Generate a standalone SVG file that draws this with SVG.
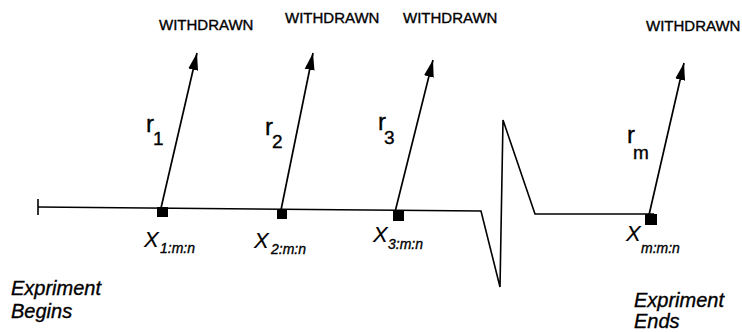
<svg xmlns="http://www.w3.org/2000/svg" width="742" height="332" viewBox="0 0 742 332">
<style>
.ln{fill:none;stroke:#000;stroke-width:1.6;stroke-linejoin:miter}
.ar{fill:none;stroke:#000;stroke-width:1.7}
.t{font-family:"Liberation Sans",Arial,sans-serif;fill:#000;stroke:#000;stroke-width:0.35}
.w{font-size:15px}
.r{font-size:24px}
.rs{font-size:19px}
.x{font-size:22px;font-style:italic;stroke-width:0.15}
.xs{font-size:14px;font-style:italic}
.e{font-size:20px;font-style:italic}
.sq{fill:#000}
</style>
<defs>
<marker id="ah" markerUnits="userSpaceOnUse" markerWidth="19" markerHeight="11" refX="17" refY="5.5" orient="auto">
<path d="M0,0.5 L17,5.5 L0,10.5 z" fill="#000"/>
</marker>
</defs>
<g id="timeline">
<line class="ln" x1="38" y1="199" x2="38" y2="215"/>
<polyline class="ln" points="38,207 481,211 500,287 503,120 535,214 654,214"/>
</g>
<g id="connectors">
<line class="ar" x1="161" y1="208" x2="197" y2="53" marker-end="url(#ah)"/>
<line class="ar" x1="281" y1="210" x2="313" y2="53" marker-end="url(#ah)"/>
<line class="ar" x1="395" y1="212" x2="433" y2="60" marker-end="url(#ah)"/>
<line class="ar" x1="649" y1="215" x2="684" y2="63" marker-end="url(#ah)"/>
</g>
<g id="node1">
<rect class="sq" x="157" y="207" width="11" height="10"/>
<text class="t w" x="159" y="30">WITHDRAWN</text>
<text class="t r" x="146" y="132">r</text><text class="t rs" x="153" y="145">1</text>
<text class="t x" x="144" y="247">X</text><text class="t xs" x="160" y="253">1:m:n</text>
</g>
<g id="node2">
<rect class="sq" x="277" y="209" width="10" height="10"/>
<text class="t w" x="285" y="23">WITHDRAWN</text>
<text class="t r" x="265" y="135">r</text><text class="t rs" x="272" y="148">2</text>
<text class="t x" x="254" y="248">X</text><text class="t xs" x="271" y="254">2:m:n</text>
</g>
<g id="node3">
<rect class="sq" x="393" y="211" width="11" height="10"/>
<text class="t w" x="403" y="23">WITHDRAWN</text>
<text class="t r" x="378" y="130">r</text><text class="t rs" x="384" y="144">3</text>
<text class="t x" x="373" y="242">X</text><text class="t xs" x="388" y="249">3:m:n</text>
</g>
<g id="nodem">
<rect class="sq" x="645" y="214" width="12" height="11"/>
<text class="t w" x="646" y="31">WITHDRAWN</text>
<text class="t r" x="627" y="143">r</text><text class="t rs" x="633" y="159">m</text>
<text class="t x" x="626" y="241">X</text><text class="t xs" x="641" y="253">m:m:n</text>
</g>
<g id="begin">
<text class="t e" x="11" y="295">Expriment</text>
<text class="t e" x="11" y="318">Begins</text>
</g>
<g id="end">
<text class="t e" x="634" y="307">Expriment</text>
<text class="t e" x="634" y="328">Ends</text>
</g>
</svg>
